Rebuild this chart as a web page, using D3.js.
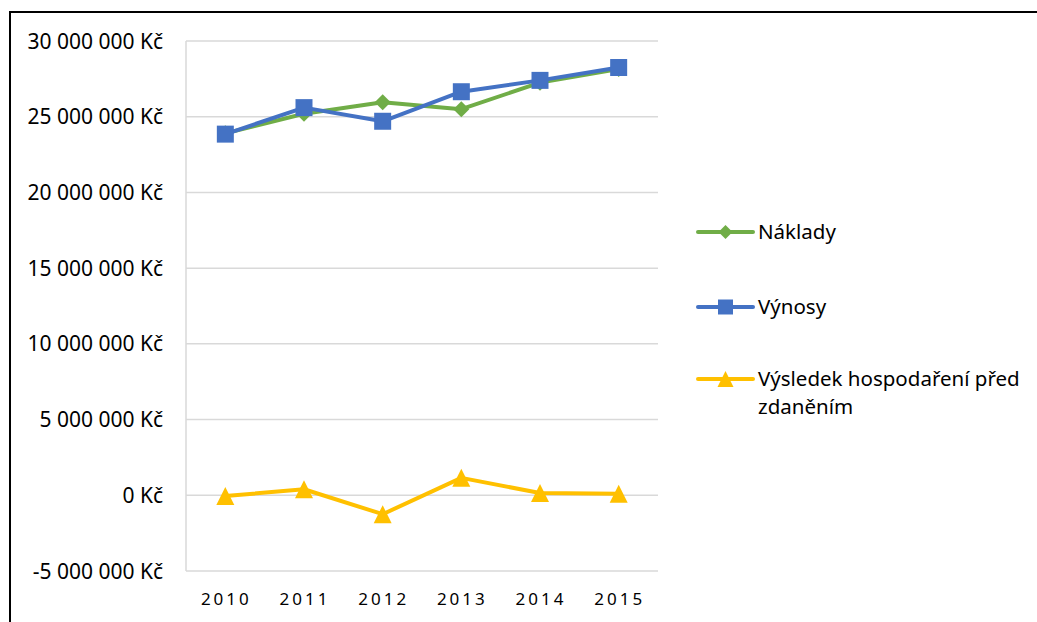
<!DOCTYPE html>
<html>
<head>
<meta charset="utf-8">
<script src="https://cdn.jsdelivr.net/npm/d3@7"></script>
<style>
  body { margin: 0; background: #fff; }
  text { font-family: "Noto Sans", "Open Sans", sans-serif; fill: #000; }
</style>
</head>
<body>
<div id="chart"></div>
<script>
// chart data
const years = ["2010", "2011", "2012", "2013", "2014", "2015"];
const naklady = [23900000, 25200000, 25950000, 25500000, 27250000, 28150000];
const vynosy = [23850000, 25600000, 24700000, 26650000, 27400000, 28250000];
const vysledek = [-50000, 400000, -1250000, 1150000, 150000, 100000];
const yTicks = [-5000000, 0, 5000000, 10000000, 15000000, 20000000, 25000000, 30000000];

const series = [
    { name: "Náklady", values: naklady, color: "#70AD47", marker: "diamond" },
    { name: "Výnosy", values: vynosy, color: "#4472C4", marker: "square" },
    { name: ["Výsledek hospodaření před", "zdaněním"], values: vysledek, color: "#FFC000", marker: "triangle" }
];

const W = 1037, H = 622;
const margin = { top: 41, right: 379, bottom: 51, left: 186 };
const width = W - margin.left - margin.right;
const height = H - margin.top - margin.bottom;

const svg = d3.select("#chart").append("svg")
    .attr("width", W)
    .attr("height", H);

// outer frame
svg.append("rect")
    .attr("x", 10).attr("y", 12)
    .attr("width", 1040).attr("height", 640)
    .attr("fill", "none")
    .attr("stroke", "#000")
    .attr("stroke-width", 2);

const g = svg.append("g")
    .attr("transform", "translate(" + margin.left + "," + margin.top + ")");

const x = d3.scaleBand().domain(years).range([0, width]);
const y = d3.scaleLinear().domain([-5000000, 30000000]).range([height, 0]);

const fmt = v => d3.format(",")(v).replace(/,/g, " ").replace("\u2212", "-") + " Kč";

// gridlines
g.append("g")
    .selectAll("line")
    .data(yTicks)
    .join("line")
    .attr("x1", 0).attr("x2", width)
    .attr("y1", d => y(d)).attr("y2", d => y(d))
    .attr("stroke", "#D9D9D9")
    .attr("stroke-width", 1.5);

// vertical axis line
g.append("line")
    .attr("x1", 0).attr("x2", 0)
    .attr("y1", 0).attr("y2", height)
    .attr("stroke", "#D9D9D9")
    .attr("stroke-width", 1.5);

// y labels
g.append("g")
    .selectAll("text")
    .data(yTicks)
    .join("text")
    .attr("x", -23)
    .attr("y", d => y(d))
    .attr("dy", "0.36em")
    .attr("text-anchor", "end")
    .style("font-size", "21px")
    .text(d => fmt(d));

// x labels
g.append("g")
    .selectAll("text")
    .data(years)
    .join("text")
    .attr("x", d => x(d) + x.bandwidth() / 2 + 1)
    .attr("y", height + 34)
    .attr("text-anchor", "middle")
    .style("font-size", "17px")
    .style("letter-spacing", "3px")
    .text(d => d);

function markerPath(type, s) {
    if (type === "square") {
        return `M${-s / 2},${-s / 2}h${s}v${s}h${-s}Z`;
    } else if (type === "diamond") {
        let r = s / 2;
        return `M0,${-r}L${r},0L0,${r}L${-r},0Z`;
    } else {
        let r = s / 2;
        return `M0,${-r}L${r},${r}L${-r},${r}Z`;
    }
}
const markerSize = { square: 17, diamond: 16, triangle: 18 };

const line = d3.line()
    .x((d, i) => x(years[i]) + x.bandwidth() / 2)
    .y(d => y(d));

series.forEach(s => {
    let sg = g.append("g");
    sg.append("path")
        .datum(s.values)
        .attr("d", line)
        .attr("fill", "none")
        .attr("stroke", s.color)
        .attr("stroke-width", 4)
        .attr("stroke-linejoin", "round")
        .attr("stroke-linecap", "round");
    sg.selectAll(".mk")
        .data(s.values)
        .join("path")
        .attr("class", "mk")
        .attr("transform", (d, i) => "translate(" + (x(years[i]) + x.bandwidth() / 2) + "," + y(d) + ")")
        .attr("d", markerPath(s.marker, markerSize[s.marker]))
        .attr("fill", s.color);
});

// legend
const legendY = [232, 307, 379];
const legend = svg.append("g");
series.forEach((s, i) => {
    let lg = legend.append("g").attr("transform", "translate(698," + legendY[i] + ")");
    lg.append("line")
        .attr("x1", 0).attr("x2", 55)
        .attr("stroke", s.color)
        .attr("stroke-width", 4)
        .attr("stroke-linecap", "round");
    lg.append("path")
        .attr("transform", "translate(27.5,0)")
        .attr("d", markerPath(s.marker, markerSize[s.marker] - 2))
        .attr("fill", s.color);
    let names = Array.isArray(s.name) ? s.name : [s.name];
    let t = lg.append("text")
        .attr("x", 60)
        .attr("y", 0)
        .style("font-size", "20.5px");
    names.forEach((n, j) => {
        t.append("tspan").attr("x", 60).attr("dy", j === 0 ? "0.36em" : "28px").text(n);
    });
});
</script>
</body>
</html>
